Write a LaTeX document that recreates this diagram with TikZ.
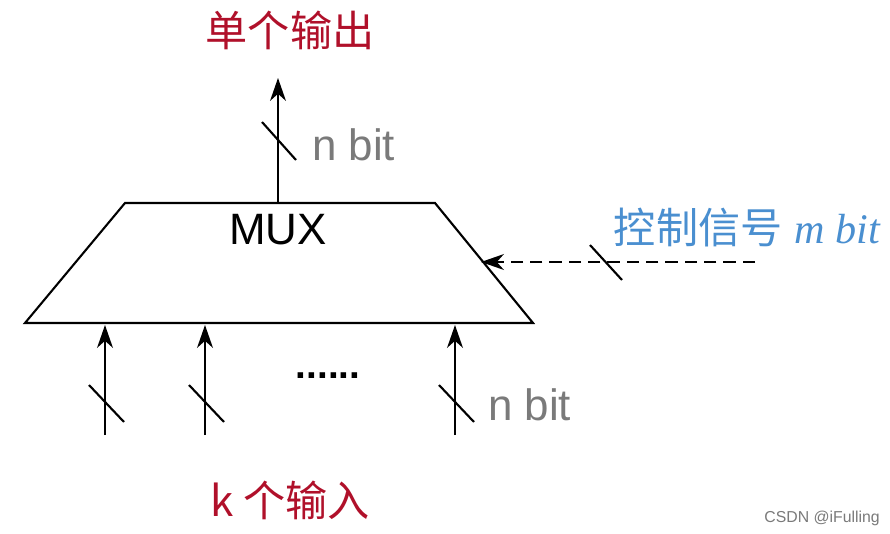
\documentclass[tikz,border=0pt]{standalone}
\usepackage{fontspec}
\setmainfont{Liberation Sans}
\newfontfamily\cjk{Noto Sans CJK SC}
\usetikzlibrary{arrows.meta}
\definecolor{dred}{HTML}{B0102A}
\definecolor{cblue}{HTML}{4A8FD0}
\definecolor{gtext}{HTML}{7A7A7A}
\begin{document}
\begin{tikzpicture}[x=0.02cm,y=-0.02cm,
  arr/.style={-{Stealth[length=13pt,width=9pt,inset=4pt]},line width=1.2pt},
  slash/.style={line width=1.2pt},
  lab/.style={font=\fontsize{25}{25}\selectfont,text=gtext},
  title/.style={font=\cjk\fontsize{24}{24}\selectfont,text=dred}]
\useasboundingbox (0,0) rectangle (890,534);
\fill[white] (0,0) rectangle (890,534);
\draw[line width=1.2pt] (125,203) coordinate (tl) -- (435,203) coordinate (tr) -- (533,323) coordinate (br) -- (25,323) coordinate (bl) -- cycle;
\node[font=\fontsize{25}{25}\selectfont] (mux) at (278,230) {MUX};
\coordinate (otop) at (278,78);
\coordinate (obot) at (278,203);
\draw[arr] (obot) -- (otop);
\draw[slash] (262,122) -- (296,160);
\node[lab,anchor=west] (onb) at (306,145) {n bit};
\node[title] (out) at (290,30) {单个输出};
\coordinate (cs) at (755,262);
\coordinate (ce) at (481,262);
\draw[arr,dashed,dash pattern=on 7pt off 4pt] (cs) -- (ce);
\draw[slash] (590,245) -- (622,280);
\node[anchor=east,text=cblue,font=\fontsize{24}{24}\selectfont] (ctl) at (886,228) {{\cjk 控制信号} {\fontspec{Liberation Serif}\itshape m bit}};
\foreach \x/\n in {105/a,205/b,455/c}{
  \coordinate (s\n) at (\x,435);
  \coordinate (e\n) at (\x,325);
  \draw[arr] (s\n) -- (e\n);
  \draw[slash] (\x-16,385) -- (\x+19,422);
}
\node[font=\bfseries\fontsize{22}{22}\selectfont] (dots) at (328,376) {......};
\node[lab,anchor=west] (inb) at (482,405) {n bit};
\node[title] (in) at (290,500) {k {\cjk 个输入}};
\node[font=\fontsize{9}{9}\selectfont,text=gtext,anchor=east] (wm) at (886,518) {CSDN @iFulling};
\end{tikzpicture}
\end{document}
